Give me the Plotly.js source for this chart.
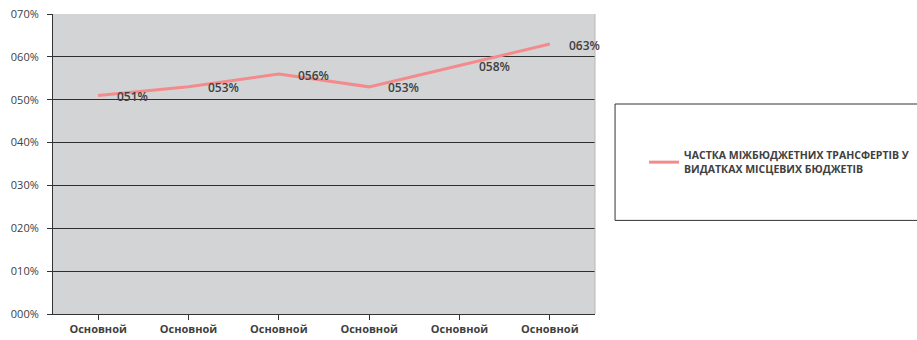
<!DOCTYPE html>
<html>
<head>
<meta charset="utf-8">
<script src="https://cdn.plot.ly/plotly-3.0.1.min.js"></script>
<style>
  html, body { margin: 0; padding: 0; background: #fff; }
  #chart { width: 917px; height: 340px; }
</style>
</head>
<body>
<div id="chart"></div>
<script>
// Share of inter-budget transfers in local budget expenditures
var categories = ['Основной', 'Основной', 'Основной', 'Основной', 'Основной', 'Основной'];
var shareValues = [0.51, 0.53, 0.56, 0.53, 0.58, 0.63];
var shareLabels = ['051%', '053%', '056%', '053%', '058%', '063%'];
var yTickValues = [0, 0.1, 0.2, 0.3, 0.4, 0.5, 0.6, 0.7];
var yTickLabels = ['000%', '010%', '020%', '030%', '040%', '050%', '060%', '070%'];
var seriesName = 'ЧАСТКА МІЖБЮДЖЕТНИХ ТРАНСФЕРТІВ У<br>ВИДАТКАХ МІСЦЕВИХ БЮДЖЕТІВ';

// categories repeat, so position by index and label the axis with ticktext
var xIdx = categories.map(function (_, i) { return i; });

var trace = {
  x: xIdx,
  y: shareValues,
  type: 'scatter',
  mode: 'lines',
  name: seriesName,
  line: { color: '#f38b8d', width: 3 },
  hoverinfo: 'skip'
};

var labelAnnotations = xIdx.map(function (xi, i) {
  return {
    x: xi, y: shareValues[i], xref: 'x', yref: 'y',
    text: shareLabels[i], showarrow: false,
    xanchor: 'left', yanchor: 'middle',
    xshift: 17, yshift: -1,
    font: { family: 'Open Sans, sans-serif', size: 12, color: '#404040', weight: 600 }
  };
});

var layout = {
  width: 917,
  height: 340,
  margin: { l: 53, r: 322, t: 14, b: 26, autoexpand: false },
  paper_bgcolor: '#ffffff',
  plot_bgcolor: '#d3d4d6',
  showlegend: true,
  xaxis: {
    range: [-0.5, 5.5],
    tickmode: 'array',
    tickvals: xIdx,
    ticktext: categories,
    showgrid: false,
    zeroline: false,
    showline: true,
    linecolor: '#333333',
    linewidth: 1,
    ticks: 'outside',
    ticklen: 5,
    tickcolor: '#333333',
    tickfont: { family: 'Open Sans, sans-serif', size: 11, color: '#404040', weight: 700 },
    fixedrange: true
  },
  yaxis: {
    range: [0, 0.7],
    tickmode: 'array',
    tickvals: yTickValues,
    ticktext: yTickLabels,
    showgrid: true,
    gridcolor: '#2e2e2e',
    gridwidth: 1,
    zeroline: false,
    showline: true,
    linecolor: '#333333',
    linewidth: 1,
    ticks: 'outside',
    ticklen: 5,
    tickcolor: '#333333',
    ticklabelstandoff: 6,
    tickfont: { family: 'Open Sans, sans-serif', size: 11, color: '#404040' },
    fixedrange: true
  },
  legend: {
    x: 1.0905, xanchor: 'left',
    y: 0.505, yanchor: 'middle',
    bgcolor: 'rgba(0,0,0,0)',
    borderwidth: 0,
    font: { family: 'Open Sans, sans-serif', size: 10.5, color: '#404040', weight: 700 }
  },
  shapes: [
    // plot frame on the right side
    { type: 'line', xref: 'paper', yref: 'paper', x0: 1, x1: 1, y0: 0, y1: 1,
      line: { color: '#b8b8b8', width: 1 } },
    // legend box
    { type: 'rect', xref: 'paper', yref: 'paper',
      x0: 1.037, x1: 1.605, y0: 0.312, y1: 0.70,
      line: { color: '#333333', width: 1 }, fillcolor: 'rgba(0,0,0,0)' }
  ],
  annotations: labelAnnotations
};

Plotly.newPlot('chart', [trace], layout, { displayModeBar: false, staticPlot: true });
</script>
</body>
</html>
